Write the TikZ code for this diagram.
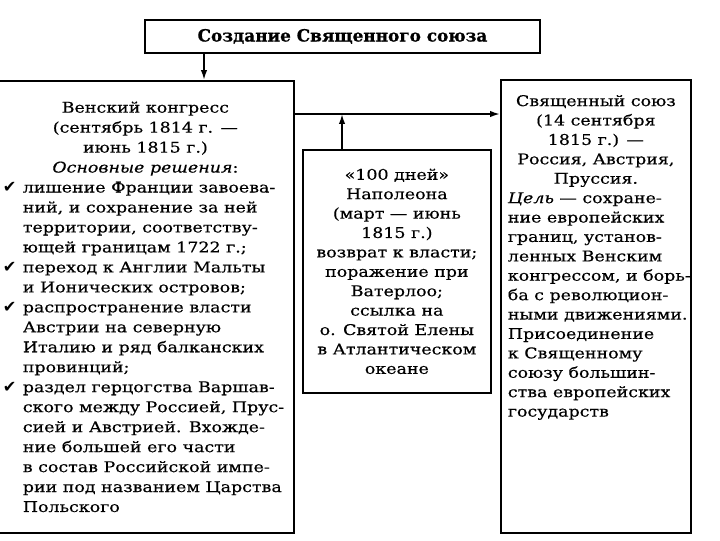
\documentclass[tikz,border=0pt]{standalone}
\usepackage{fontspec}
\setmainfont{DejaVu Serif}[FakeStretch=1.18,FakeBold=0.4]
\newfontfamily\titlefont{DejaVu Serif}[FakeBold=0.8]
\newfontfamily\symfont{DejaVu Sans}
\usetikzlibrary{arrows.meta,positioning}

\newcommand{\chk}{\makebox[0.65cm][l]{\hspace{0.15cm}{\symfont\fontsize{11.5}{11.5}\selectfont ✔}}}
\newcommand{\ind}{\hspace*{0.65cm}}

\begin{document}
\begin{tikzpicture}[
  x=0.025cm, y=-0.025cm,
  panel/.style={draw, line width=1.2pt, inner sep=0pt, anchor=north west},
  heading/.style={draw, line width=1.3pt, inner sep=0pt, anchor=north west,
    font=\titlefont\bfseries\fontsize{12}{14}\selectfont},
  arr/.style={-{Latex[length=7pt,width=4.5pt]}, line width=1.2pt}
]
\useasboundingbox (0,0) rectangle (720,540);

\node[heading] (title) at (144,19)
  {\parbox[c][0.825cm][c]{9.875cm}{\centering Создание Священного союза}};

\node[panel] (vienna) at (-4,80) {\parbox[c][11.3cm][c]{7.425cm}{%
  \fontsize{10.5}{14.2}\selectfont
  {\centering Венский конгресс\\(сентябрь 1814 г. —\\июнь 1815 г.)\\
   \textit{Основные решения}:\par}
  \raggedright
  \chk лишение Франции завоева-\\
  \ind ний, и сохранение за ней\\
  \ind территории, соответству-\\
  \ind ющей границам 1722 г.;\\
  \chk переход к Англии Мальты\\
  \ind и Ионических островов;\\
  \chk распространение власти\\
  \ind Австрии на северную\\
  \ind Италию и ряд балканских\\
  \ind провинций;\\
  \chk раздел герцогства Варшав-\\
  \ind ского между Россией, Прус-\\
  \ind сией и Австрией. Вхожде-\\
  \ind ние большей его части\\
  \ind в состав Российской импе-\\
  \ind рии под названием Царства\\
  \ind Польского}};

\node[panel] (hundred) at (302,149) {\parbox[c][6.075cm][c]{4.7cm}{%
  \centering\fontsize{10.5}{13.8}\selectfont
  «100 дней»\\Наполеона\\(март — июнь\\1815 г.)\\возврат к власти;\\
  поражение при\\Ватерлоо;\\ссылка на\\о. Святой Елены\\
  в Атлантическом\\океане}};

\node[panel] (alliance) at (500,79) {\parbox[c][11.325cm][t]{4.75cm}{%
  \fontsize{10.5}{13.8}\selectfont
  \vspace*{0.38cm}
  {\centering Священный союз\\(14 сентября\\1815 г.) —\\Россия, Австрия,\\
   Пруссия.\par}
  \raggedright\leftskip=0.175cm
  \textit{Цель} — сохране-\\
  ние европейских\\
  границ, установ-\\
  ленных Венским\\
  конгрессом, и борь-\\
  ба с революцион-\\
  ными движениями.\\
  Присоединение\\
  к Священному\\
  союзу большин-\\
  ства европейских\\
  государств}};

\coordinate (drop) at (204,0);
\coordinate (link) at (0,114);
\coordinate (join) at (342,114);

\draw[arr] (title.south -| drop) -- (vienna.north -| drop);
\draw[arr] (vienna.east |- link) -- (alliance.west |- link);
\draw[arr] (hundred.north -| join) -- (join);
\end{tikzpicture}
\end{document}
